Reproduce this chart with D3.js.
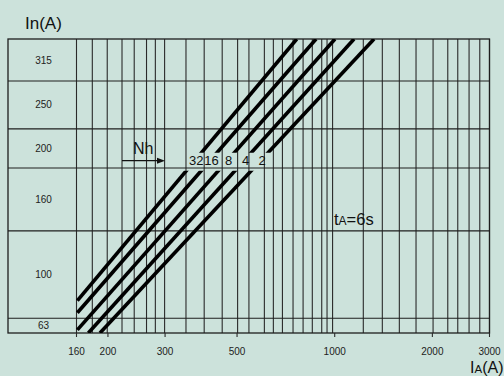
<!DOCTYPE html>
<html>
<head>
<meta charset="utf-8">
<script src="https://cdn.jsdelivr.net/npm/d3@7"></script>
<style>
  html, body { margin: 0; padding: 0; background: #cce2db; }
  svg { display: block; font-family: "Liberation Sans", Arial, sans-serif; }
</style>
</head>
<body>
<svg id="chart" width="504" height="376"></svg>
<script>
// ---- data ----
const nhLabels = ["32", "16", "8", "4", "2"];
const startIA = [161, 161, 161, 174, 189];
const startIn = [73.9, 68.4, 61.2, 60, 60];
const endIA = [764, 876, 1002, 1147, 1322];
const endIn = [400, 400, 400, 400, 400];

const xTickValues = [160, 200, 300, 500, 1000, 2000, 3000];
const xGridValues = [160, 179, 199, 221, 241, 263, 280, 299, 348, 396, 450, 502, 544, 607, 647, 690, 744, 799, 853, 912, 947, 985,
                     1225, 1402, 1582, 1781, 2010, 2231, 2395, 2595, 2800, 3000];
const inBandLabels = [63, 100, 160, 200, 250, 315];
const inBandEdges = [60, 66, 116, 174, 224, 305, 400];
const gapIn = [171, 192];

// ---- layout ----
const W = 504, H = 376;
const frameLeft = 8;
const svg = d3.select("#chart");
svg.append("rect").attr("width", W).attr("height", H).attr("fill", "#cce2db");

const x = d3.scaleLog().domain([160, 3000]).range([76.5, 489.5]);
const y = d3.scaleLog().domain([60, 400]).range([333, 39]);
const xR = x.range()[1];
const yT = y.range()[1], yB = y.range()[0];

// vertical grid
svg.append("g").selectAll("line").data(xGridValues).join("line")
  .attr("x1", d => x(d)).attr("x2", d => x(d))
  .attr("y1", yT).attr("y2", yB)
  .attr("stroke", "#2a2a2a").attr("stroke-width", 1.1);

// horizontal band edges
svg.append("g").selectAll("line").data(inBandEdges.slice(1, -1)).join("line")
  .attr("x1", frameLeft).attr("x2", xR)
  .attr("y1", d => y(d)).attr("y2", d => y(d))
  .attr("stroke", "#1e1e1e").attr("stroke-width", 1.2);

// frame
svg.append("rect")
  .attr("x", frameLeft).attr("y", yT)
  .attr("width", xR - frameLeft).attr("height", yB - yT)
  .attr("fill", "none").attr("stroke", "#1e1e1e").attr("stroke-width", 1.3);

// bottom tick marks
svg.append("g").selectAll("line").data(xTickValues).join("line")
  .attr("x1", d => x(d)).attr("x2", d => x(d))
  .attr("y1", yB).attr("y2", yB + 4)
  .attr("stroke", "#2a2a2a").attr("stroke-width", 1.1);

// band labels
svg.append("g").selectAll("text").data(inBandLabels).join("text")
  .attr("x", 43.5)
  .attr("y", (d, i) => (y(inBandEdges[i]) + y(inBandEdges[i + 1])) / 2)
  .attr("dy", "0.35em")
  .attr("text-anchor", "middle")
  .attr("font-size", 10)
  .attr("fill", "#222")
  .text(d => d);

// x tick labels
svg.append("g").selectAll("text").data(xTickValues).join("text")
  .attr("x", d => x(d))
  .attr("y", 355)
  .attr("text-anchor", "middle")
  .attr("font-size", 10)
  .attr("fill", "#222")
  .text(d => d);

// clip with gap for labels
const clip = svg.append("clipPath").attr("id", "gapclip");
clip.append("rect").attr("x", frameLeft).attr("y", yT)
  .attr("width", xR - frameLeft).attr("height", y(gapIn[1]) - yT);
clip.append("rect").attr("x", frameLeft).attr("y", y(gapIn[0]))
  .attr("width", xR - frameLeft).attr("height", yB - y(gapIn[0]));

const lines = nhLabels.map((n, i) => ({
  n,
  pts: [[startIA[i], startIn[i]], [endIA[i], endIn[i]]]
}));
const lineGen = d3.line().x(d => x(d[0])).y(d => y(d[1]));

svg.append("g").attr("clip-path", "url(#gapclip)")
  .selectAll("path").data(lines).join("path")
  .attr("d", d => lineGen(d.pts))
  .attr("fill", "none").attr("stroke", "#000").attr("stroke-width", 3.6);

// line labels in gap
const yLab = (y(gapIn[0]) + y(gapIn[1])) / 2 - 1;
svg.append("g").selectAll("text").data(lines).join("text")
  .attr("x", d => {
    const x0 = x(d.pts[0][0]), y0 = y(d.pts[0][1]);
    const x1 = x(d.pts[1][0]), y1 = y(d.pts[1][1]);
    return x0 + (x1 - x0) * (yLab - y0) / (y1 - y0) + 1.5;
  })
  .attr("y", yLab)
  .attr("dy", "0.36em")
  .attr("text-anchor", "middle")
  .attr("font-size", 13)
  .attr("fill", "#111")
  .text(d => d.n);

// Nh with arrow
svg.append("text").attr("x", 133).attr("y", 154)
  .attr("font-size", 16).attr("fill", "#111").text("Nh");
svg.append("line").attr("x1", 122).attr("x2", 158).attr("y1", 160.7).attr("y2", 160.7)
  .attr("stroke", "#111").attr("stroke-width", 1.3);
svg.append("path").attr("d", "M157,157.7 L165,160.7 L157,163.7 Z").attr("fill", "#111");

// titles
svg.append("text").attr("x", 25).attr("y", 29)
  .attr("font-size", 17).attr("fill", "#111").text("In(A)");

const tA = svg.append("text").attr("x", 334).attr("y", 225)
  .attr("font-size", 16.5).attr("fill", "#111");
tA.append("tspan").text("t");
tA.append("tspan").attr("font-size", 12).text("A");
tA.append("tspan").text("=6s");

const iA = svg.append("text").attr("x", 470).attr("y", 373)
  .attr("font-size", 16).attr("fill", "#111");
iA.append("tspan").text("I");
iA.append("tspan").attr("font-size", 11.5).text("A");
iA.append("tspan").text("(A)");
</script>
</body>
</html>
